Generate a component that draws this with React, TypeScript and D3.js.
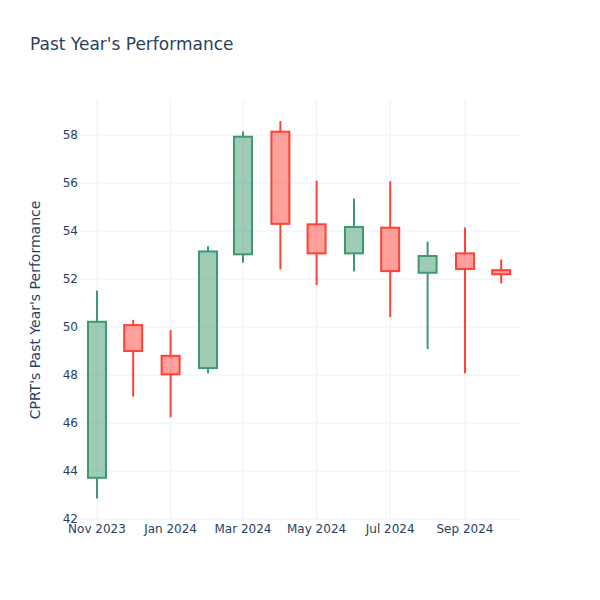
import React from "react";
import * as d3 from "d3";

const dates = ["2023-11-01","2023-12-01","2024-01-01","2024-02-01","2024-03-01","2024-04-01","2024-05-01","2024-06-01","2024-07-01","2024-08-01","2024-09-01","2024-10-01"];
const opens = [43.72, 50.08, 48.8, 48.29, 53.03, 58.14, 54.28, 53.07, 54.14, 52.26, 53.07, 52.37];
const highs = [51.52, 50.3, 49.87, 53.37, 58.15, 58.58, 56.1, 55.35, 56.07, 53.56, 54.15, 52.82];
const lows = [42.86, 47.1, 46.24, 48.07, 52.68, 52.4, 51.75, 52.32, 50.42, 49.08, 48.07, 51.82];
const closes = [50.22, 49.0, 48.03, 53.15, 57.93, 54.3, 53.07, 54.17, 52.33, 52.96, 52.42, 52.2];
const yTicks = [42, 44, 46, 48, 50, 52, 54, 56, 58];
const xTickDates = ["2023-11-01","2024-01-01","2024-03-01","2024-05-01","2024-07-01","2024-09-01"];
const xTickLabels = ["Nov 2023","Jan 2024","Mar 2024","May 2024","Jul 2024","Sep 2024"];

const W = 600, H = 600;
const L = 80, R = 520, T = 100, B = 520;
const font = "'DejaVu Sans', sans-serif";
const txt = "#2a3f5f";
const grid = "#ebf0f8";

export default function App() {
  const parse = (s: string) => new Date(s + "T00:00:00Z");
  const x = d3.scaleUtc()
    .domain([new Date(Date.UTC(2023, 9, 17, 22)), new Date(Date.UTC(2024, 9, 16, 14))])
    .range([L, R]);
  const y = d3.scaleLinear().domain([41.96, 59.46]).range([B, T]);
  const bw = 18;

  return (
    <svg width={W} height={H} style={{ position: "absolute", left: 0, top: 0, background: "#fff" }}>
      <rect x={0} y={0} width={W} height={H} fill="#fff" />
      {yTicks.map((t) => (
        <line key={"gy" + t} x1={L} x2={R} y1={y(t)} y2={y(t)} stroke={grid} strokeWidth={1} />
      ))}
      {xTickDates.map((d) => (
        <line key={"gx" + d} x1={x(parse(d))} x2={x(parse(d))} y1={T} y2={B} stroke={grid} strokeWidth={1} />
      ))}
      {dates.map((d, i) => {
        const inc = closes[i] >= opens[i];
        const stroke = inc ? "#3D9970" : "#FF4136";
        const fill = inc ? "rgba(61,153,112,0.5)" : "rgba(255,65,54,0.5)";
        const cx = x(parse(d));
        const top = y(Math.max(opens[i], closes[i]));
        const bot = y(Math.min(opens[i], closes[i]));
        return (
          <g key={d}>
            <line x1={cx} x2={cx} y1={y(highs[i])} y2={top} stroke={stroke} strokeWidth={2} />
            <line x1={cx} x2={cx} y1={bot} y2={y(lows[i])} stroke={stroke} strokeWidth={2} />
            <rect x={cx - bw / 2} y={top} width={bw} height={Math.max(bot - top, 0.5)} fill={fill} stroke={stroke} strokeWidth={2} />
          </g>
        );
      })}
      {yTicks.map((t) => (
        <text key={"ty" + t} x={L - 2} y={y(t)} dy="0.35em" textAnchor="end" fontFamily={font} fontSize={12} fill={txt}>{t}</text>
      ))}
      {xTickDates.map((d, i) => (
        <text key={"tx" + d} x={x(parse(d))} y={B + 13} textAnchor="middle" fontFamily={font} fontSize={12} fill={txt}>{xTickLabels[i]}</text>
      ))}
      <text x={30} y={50} fontFamily={font} fontSize={17} fill={txt}>Past Year's Performance</text>
      <text transform={`translate(40,${(T + B) / 2}) rotate(-90)`} textAnchor="middle" fontFamily={font} fontSize={14} fill={txt}>CPRT's Past Year's Performance</text>
    </svg>
  );
}
